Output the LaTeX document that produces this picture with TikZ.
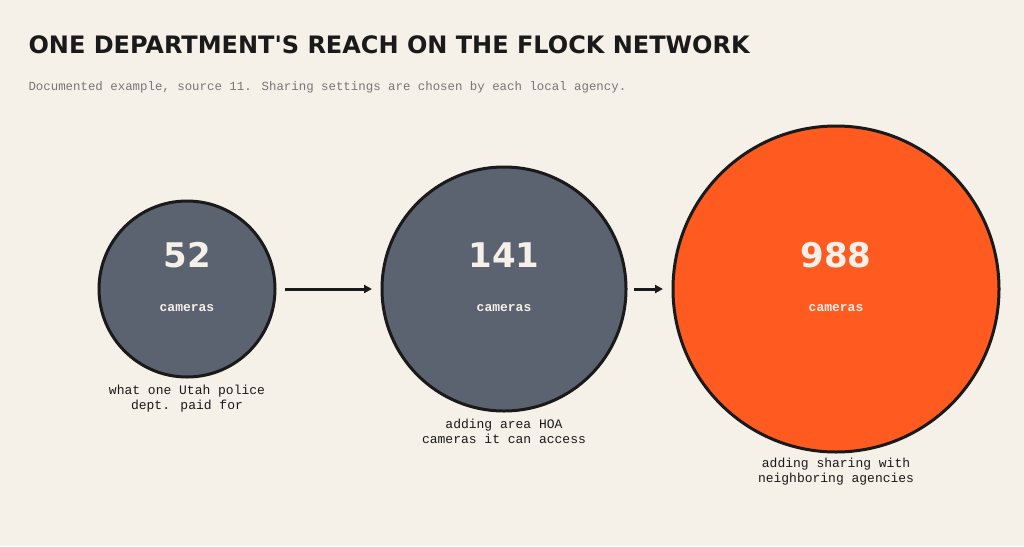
\documentclass[tikz,border=0pt]{standalone}
\usepackage{fontspec}
\setmainfont{Liberation Sans}
\newfontfamily\monof{Liberation Mono}
\newfontfamily\headf{DejaVu Sans}
\definecolor{bg}{HTML}{F5F0E8}
\definecolor{slate}{HTML}{5B6270}
\definecolor{flame}{HTML}{FF5A1F}
\definecolor{ink}{HTML}{1A1A1A}
\definecolor{cream}{HTML}{F5F0E8}
\definecolor{sub}{HTML}{777777}
\usetikzlibrary{arrows.meta}
\begin{document}
\begin{tikzpicture}[x=1pt,y=-1pt,
  bubble/.style={circle,draw=ink,line width=3pt,inner sep=0pt},
  num/.style={text=cream,font=\headf\bfseries\fontsize{34}{36}\selectfont},
  unit/.style={text=cream,font=\monof\bfseries\fontsize{13}{15}\selectfont},
  lbl/.style={text=ink,align=center,font=\monof\fontsize{13}{15}\selectfont},
  conn/.style={ink,line width=3pt,-{Triangle[length=8pt,width=8pt]}}]
\fill[bg] (0,0) rectangle (1024,546);
\useasboundingbox (0,0) rectangle (1024,546);
\node[anchor=base west,text=ink,font=\headf\bfseries\fontsize{24}{26}\selectfont] (title) at (25,53) {ONE DEPARTMENT'S REACH ON THE FLOCK NETWORK};
\node[anchor=base west,text=sub,font=\monof\fontsize{12.4}{14}\selectfont] (subt) at (25,90) {Documented example, source 11. Sharing settings are chosen by each local agency.};
\node[bubble,fill=slate,minimum size=176pt] (c1) at (187,289) {};
\node[bubble,fill=slate,minimum size=244pt] (c2) at (504,289) {};
\node[bubble,fill=flame,minimum size=326pt] (c3) at (836,289) {};
\node[num] (n1) at (187,255) {52};
\node[num] (n2) at (504,255) {141};
\node[num] (n3) at (836,255) {988};
\node[unit] (u1) at (187,308) {cameras};
\node[unit] (u2) at (504,308) {cameras};
\node[unit] (u3) at (836,308) {cameras};
\node[lbl] (l1) at (187,399) {what one Utah police\\dept. paid for};
\node[lbl] (l2) at (504,431) {adding area HOA\\cameras it can access};
\node[lbl] (l3) at (836,472) {adding sharing with\\neighboring agencies};
\coordinate (a1s) at (285,289); \coordinate (a1e) at (372,289);
\coordinate (a2s) at (634,289); \coordinate (a2e) at (663,289);
\draw[conn] (a1s) -- (a1e);
\draw[conn] (a2s) -- (a2e);
\end{tikzpicture}
\end{document}
